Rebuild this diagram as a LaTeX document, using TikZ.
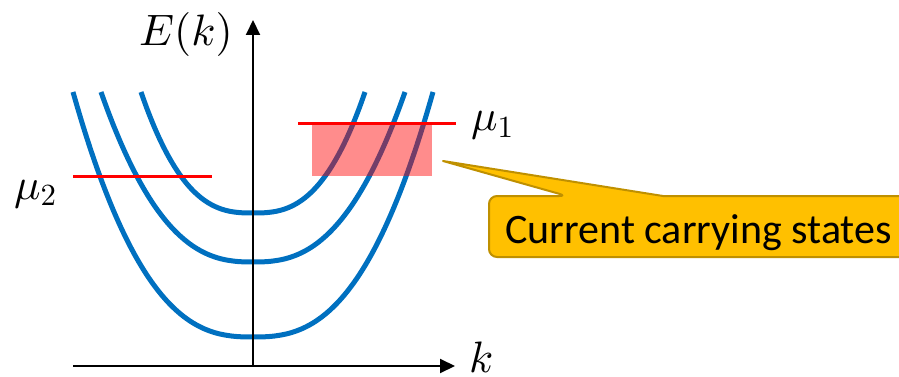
\RequirePackage{fix-cm}
\documentclass[tikz,border=0pt]{standalone}
\usepackage{fontspec}
\setmainfont{Carlito}
\usetikzlibrary{arrows.meta}
\definecolor{bandblue}{HTML}{0070C0}
\definecolor{callfill}{HTML}{FFC000}
\definecolor{calldraw}{HTML}{BF9000}
\DeclareFontShape{OML}{cmm}{m}{it}{<->cmmi10}{}
\DeclareFontShape{OT1}{cmr}{m}{n}{<->cmr10}{}
\begin{document}
\begin{tikzpicture}[x=1pt,y=-1pt,
  band/.style={bandblue, line width=5pt},
  axis/.style={line width=2pt, -{Triangle[length=15pt,width=14pt]}},
  level/.style={red, line width=3pt},
  lab/.style={inner sep=0pt, font=\fontsize{44}{50}\selectfont},
  callout/.style={fill=callfill, draw=calldraw, line width=2pt, line join=round},
  calltext/.style={inner sep=0pt, font=\fontsize{42}{48}\selectfont}]
\useasboundingbox (0,0) rectangle (899,377);
\clip (0,0) rectangle (899,377);
% bands
\draw[band] plot[domain=-180:180, samples=121, smooth] ({253+\x}, {337-245*pow(abs(\x)/180+0.00001,2.6)});
\draw[band] plot[domain=-152:152, samples=121, smooth] ({253+\x}, {262-170*pow(abs(\x)/152+0.00001,2.55)});
\draw[band] plot[domain=-112:112, samples=121, smooth] ({253+\x}, {213-121*pow(abs(\x)/112+0.00001,2.7)});
% current carrying window
\fill[red, opacity=0.45] (312,124) rectangle (432,176);
% chemical potentials
\coordinate (m1a) at (298,124);
\coordinate (m1b) at (456,124);
\coordinate (m2a) at (73,176);
\coordinate (m2b) at (212,176);
\draw[level] (m1a) -- (m1b);
\draw[level] (m2a) -- (m2b);
% axes
\coordinate (xa) at (73,366);
\coordinate (xb) at (455,366);
\coordinate (ya) at (253,366);
\coordinate (yb) at (253,20);
\draw[axis] (xa) -- (xb);
\draw[axis] (ya) -- (yb);
% labels
\node[lab, anchor=base west] (E) at (139,46) {$E(k)$};
\node[lab, anchor=base west] (k) at (469,372) {$k$};
\node[lab, anchor=base west] (mu1) at (471,131) {$\mu_1$};
\node[lab, anchor=base west] (mu2) at (14,199) {$\mu_2$};
% callout
\coordinate (tip) at (443,161);
\draw[callout] (567,196) -- (tip) -- (663,196) [rounded corners=8pt] -- (910,196) -- (910,257) -- (489,257) -- (489,196) -- cycle;
\node[calltext, anchor=base west] (ct) at (505,243) {Current carrying states};
\end{tikzpicture}
\end{document}
